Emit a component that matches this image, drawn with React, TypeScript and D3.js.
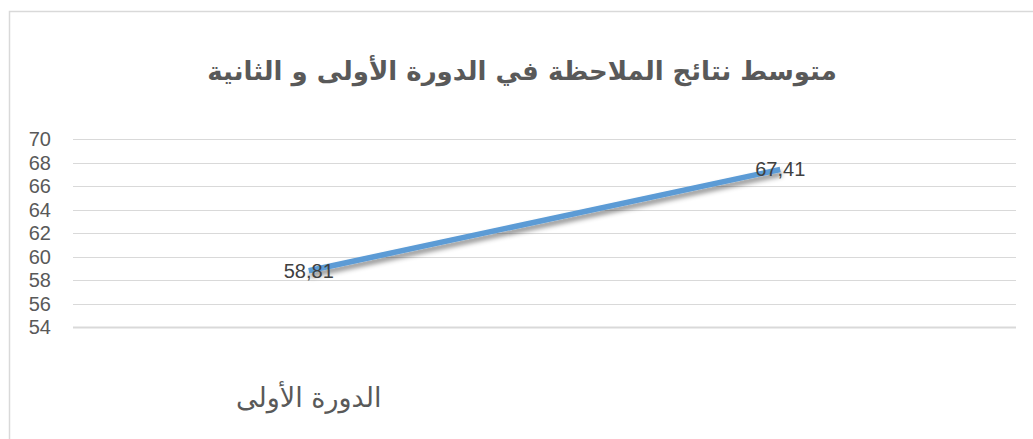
import React, { useEffect, useRef } from 'react';
import * as d3 from 'd3';

const title = 'متوسط نتائج الملاحظة في الدورة الأولى و الثانية';
const categories = ['الدورة الأولى', 'الدورة الثانية'];
const categoryLabels = ['الدورة الأولى', ''];
const values = [58.81, 67.41];
const valueLabels = ['58,81', '67,41'];
const yTicks = [54, 56, 58, 60, 62, 64, 66, 68, 70];

const App: React.FC = () => {
  const svgRef = useRef<SVGSVGElement | null>(null);

  useEffect(() => {
    if (!svgRef.current) return;

    const width = 1033;
    const height = 439;
    const margin = { top: 139, right: 17, bottom: 112, left: 73 };

    const svg = d3.select(svgRef.current).attr('width', width).attr('height', height);
    svg.selectAll('*').remove();

    // drop shadow for the line
    const defs = svg.append('defs');
    const filter = defs
      .append('filter')
      .attr('id', 'shadow')
      .attr('x', '-10%')
      .attr('y', '-50%')
      .attr('width', '120%')
      .attr('height', '200%');
    filter
      .append('feDropShadow')
      .attr('dx', 1)
      .attr('dy', 4)
      .attr('stdDeviation', 2.5)
      .attr('flood-color', '#000')
      .attr('flood-opacity', 0.45);

    svg
      .append('rect')
      .attr('x', 9.5)
      .attr('y', 11.5)
      .attr('width', width)
      .attr('height', height)
      .attr('fill', 'white')
      .attr('stroke', '#d9d9d9')
      .attr('stroke-width', 1.5);

    svg
      .append('text')
      .attr('x', 522)
      .attr('y', 80)
      .attr('text-anchor', 'middle')
      .attr('direction', 'rtl')
      .attr('font-family', '"DejaVu Sans", sans-serif')
      .attr('font-weight', 'bold')
      .attr('font-size', 26)
      .attr('fill', '#595959')
      .text(title);

    const g = svg.append('g');

    const x = d3
      .scaleBand()
      .domain(categories)
      .range([margin.left, width - margin.right]);

    const y = d3
      .scaleLinear()
      .domain([54, 70])
      .range([height - margin.bottom + 0.3, margin.top]);

    // gridlines
    g.selectAll('.grid')
      .data(yTicks)
      .enter()
      .append('line')
      .attr('x1', margin.left)
      .attr('x2', width - margin.right)
      .attr('y1', (d) => Math.round(y(d)) + 0.5)
      .attr('y2', (d) => Math.round(y(d)) + 0.5)
      .attr('stroke', '#d9d9d9')
      .attr('stroke-width', (d) => (d === 54 ? 2 : 1.2));

    // y tick labels
    g.selectAll('.ytick')
      .data(yTicks)
      .enter()
      .append('text')
      .attr('x', 51)
      .attr('y', (d) => y(d))
      .attr('dy', '0.35em')
      .attr('text-anchor', 'end')
      .attr('font-family', '"Liberation Sans", sans-serif')
      .attr('font-size', 20)
      .attr('fill', '#595959')
      .text((d) => d);

    // x labels
    g.selectAll('.xtick')
      .data(categories)
      .enter()
      .append('text')
      .attr('x', (d) => (x(d) as number) + x.bandwidth() / 2)
      .attr('y', 407)
      .attr('text-anchor', 'middle')
      .attr('direction', 'rtl')
      .attr('font-family', '"DejaVu Sans", sans-serif')
      .attr('font-size', 27)
      .attr('fill', '#595959')
      .text((d, i) => categoryLabels[i]);

    const pts = categories.map((c, i) => [
      (x(c) as number) + x.bandwidth() / 2,
      y(values[i]),
    ]) as [number, number][];

    g.append('path')
      .datum(pts)
      .attr('d', d3.line())
      .attr('fill', 'none')
      .attr('stroke', '#5b9bd5')
      .attr('stroke-width', 5.5)
      .attr('filter', 'url(#shadow)');

    g.selectAll('.vlabel')
      .data(pts)
      .enter()
      .append('text')
      .attr('x', (d) => d[0])
      .attr('y', (d) => d[1])
      .attr('dy', '0.35em')
      .attr('text-anchor', 'middle')
      .attr('font-family', '"Liberation Sans", sans-serif')
      .attr('font-size', 20)
      .attr('fill', '#404040')
      .text((d, i) => valueLabels[i]);
  }, []);

  return (
    <div style={{ position: 'absolute', left: 0, top: 0 }}>
      <svg ref={svgRef} style={{ display: 'block' }}></svg>
    </div>
  );
};

export default App;
